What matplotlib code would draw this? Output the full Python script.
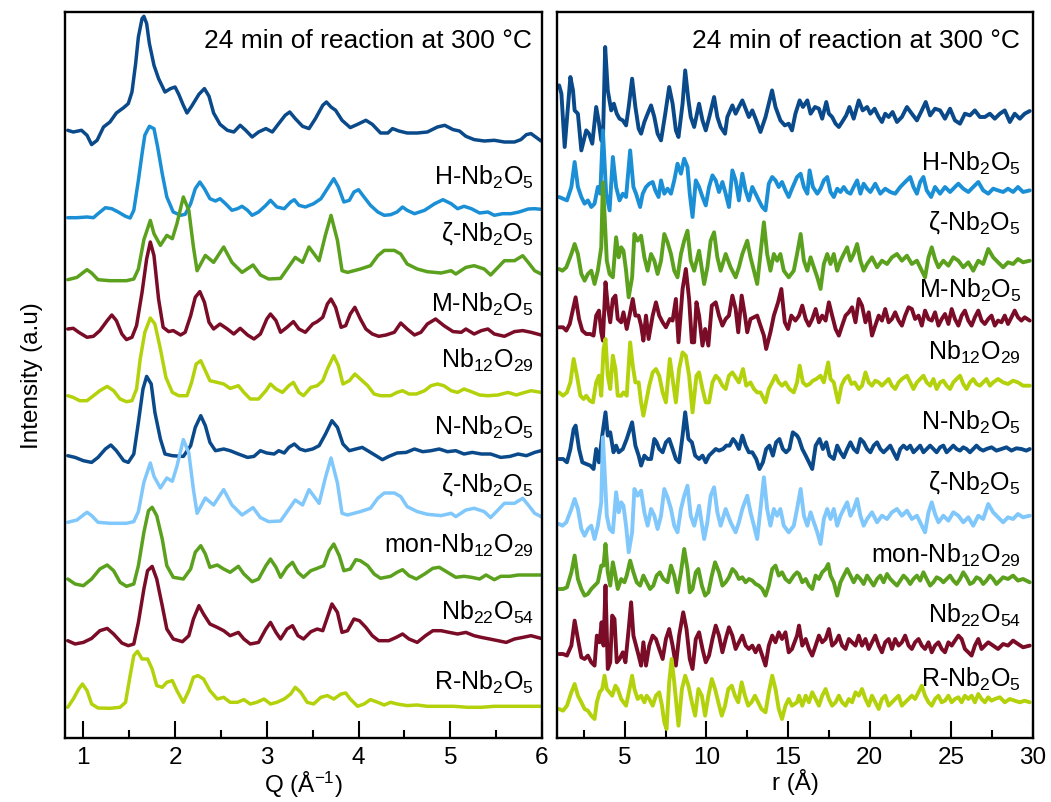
import matplotlib
matplotlib.use("Agg")
import matplotlib.pyplot as plt
from matplotlib.ticker import MultipleLocator

plt.rcParams['font.family'] = ['Liberation Sans', 'DejaVu Sans']
plt.rcParams['mathtext.default'] = 'regular'

# ---------------- colours ----------------
NAVY = '#0b4a8a'; BLUE = '#1a8fd6'; GREEN = '#5ba11e'
RED = '#7b0c27'; LIME = '#b4d20c'; SKY = '#80c7fb'

# ---------------- labels ----------------
title_text = '24 min of reaction at 300 °C'
phase_labels = ['H-Nb$_2$O$_5$', 'ζ-Nb$_2$O$_5$', 'M-Nb$_2$O$_5$', 'Nb$_{12}$O$_{29}$',
                'N-Nb$_2$O$_5$', 'ζ-Nb$_2$O$_5$', 'mon-Nb$_{12}$O$_{29}$',
                'Nb$_{22}$O$_{54}$', 'R-Nb$_2$O$_5$']

# ================= LEFT PANEL: reciprocal space, Q (1/Å), intensity (a.u.) =================
q_exp = [0.83,0.89,0.98,1.04,1.09,1.15,1.22,1.29,1.36,1.44,1.49,1.53,1.57,1.60,1.64,1.66,1.69,1.72,1.77,1.82,1.89,1.95,2.00,2.04,2.09,2.13,2.18,2.26,2.32,2.37,2.42,2.49,2.57,2.64,2.71,2.77,2.84,2.91,2.99,3.06,3.13,3.20,3.25,3.31,3.39,3.46,3.53,3.61,3.65,3.70,3.75,3.82,3.91,3.99,4.08,4.15,4.24,4.32,4.37,4.44,4.53,4.64,4.75,4.86,4.94,5.03,5.10,5.17,5.26,5.37,5.48,5.59,5.70,5.77,5.83,5.88,5.94,5.99]
i_exp = [1.0,0.83,1.0,0.5,-0.43,0,1.33,1.83,2.73,3.27,3.67,4.83,7.67,10.33,12.17,12.4,11.67,9.67,7.5,6.17,4.83,5.17,5.33,4.6,3.5,2.73,3.4,4.6,5.17,4.4,2.73,1.6,1.0,0.83,1.5,1.0,0.33,0.83,1.17,0.83,1.67,2.5,2.83,2.17,1.4,1.17,2.17,3.5,3.83,3.33,3.0,2.0,1.27,1.6,2.0,1.6,0.73,0.73,1.17,0.93,0.73,0.73,0.83,1.33,1.5,1.07,0.93,0.4,0.07,-0.07,0,-0.17,-0.17,0.07,0.57,0.67,0.27,-0.07]

q_H = [0.83,0.93,1.04,1.11,1.16,1.24,1.31,1.38,1.46,1.51,1.55,1.60,1.64,1.67,1.72,1.77,1.81,1.86,1.91,1.98,2.06,2.11,2.17,2.22,2.27,2.32,2.38,2.44,2.49,2.55,2.62,2.68,2.73,2.79,2.84,2.91,2.99,3.04,3.11,3.19,3.26,3.30,3.35,3.42,3.51,3.59,3.66,3.73,3.78,3.84,3.90,3.95,4.00,4.06,4.13,4.21,4.28,4.35,4.42,4.48,4.53,4.61,4.72,4.83,4.92,5.01,5.08,5.15,5.23,5.32,5.41,5.48,5.57,5.66,5.75,5.85,5.92,5.99]
i_H = [-0.07,-0.07,0,-0.07,0.33,0.93,0.83,0.5,0.07,-0.1,0.67,3.67,6.33,8.17,9.07,8.83,7.0,4.33,2.0,0.5,0.17,0.27,1.33,2.83,3.5,2.83,1.83,1.6,1.83,1.33,0.67,0.83,1.07,0.67,0.17,0.5,1.17,1.67,1.0,0.83,1.5,1.73,1.17,1.0,1.33,1.83,2.83,3.83,3.0,1.5,1.67,2.5,2.73,2.0,1.17,0.5,0.17,0.23,0.5,1.0,0.67,0.33,0.67,1.33,1.73,1.33,0.83,1.07,0.83,0.4,0.5,0.17,0.33,0.33,0.5,0.8,0.83,0.77]

q_zeta = [0.83,0.93,1.00,1.04,1.09,1.16,1.29,1.47,1.55,1.60,1.66,1.73,1.77,1.84,1.91,1.97,2.02,2.09,2.15,2.20,2.24,2.33,2.42,2.53,2.62,2.73,2.85,2.93,3.02,3.15,3.26,3.31,3.39,3.46,3.57,3.64,3.70,3.77,3.82,3.88,4.02,4.13,4.21,4.28,4.39,4.46,4.53,4.64,4.75,4.90,5.01,5.06,5.17,5.26,5.37,5.44,5.52,5.59,5.70,5.79,5.85,5.92,5.99]
i_zeta = [0,0.23,0.73,1.0,0.67,0,-0.1,-0.1,0.07,1.07,4.0,5.93,4.6,3.43,4.43,4.1,5.6,8.27,6.93,3.27,0.9,2.43,1.73,3.27,1.73,0.73,1.47,0.47,0.07,0.13,1.57,2.23,1.73,3.27,1.9,4.5,6.43,3.93,0.9,0.73,1.07,1.4,2.4,2.93,2.93,2.57,1.57,1.07,0.8,0.67,0.9,0.57,1.23,1.4,1.07,0.47,1.23,1.9,1.9,2.4,1.73,0.9,0.57]

q_M = [0.83,0.89,0.95,1.04,1.11,1.18,1.26,1.31,1.36,1.42,1.47,1.53,1.58,1.64,1.69,1.73,1.77,1.82,1.87,1.93,1.98,2.06,2.11,2.17,2.22,2.27,2.32,2.37,2.42,2.49,2.57,2.64,2.71,2.79,2.86,2.93,3.00,3.04,3.10,3.15,3.22,3.29,3.35,3.42,3.50,3.55,3.61,3.66,3.70,3.75,3.81,3.86,3.91,3.96,4.02,4.08,4.15,4.22,4.30,4.39,4.46,4.53,4.61,4.68,4.75,4.84,4.93,5.03,5.12,5.17,5.26,5.34,5.41,5.48,5.59,5.70,5.79,5.88,5.99]
i_M = [0.73,0.8,0.4,-0.1,0,0.57,1.57,2.13,1.57,0.23,-0.33,-0.1,1.07,4.4,7.73,9.43,8.07,3.73,0.9,0.47,0.57,0.13,0.4,2.07,3.9,4.47,3.4,1.4,0.73,1.23,0.73,0.23,0.8,0.13,-0.27,0.23,1.73,2.23,1.57,0.4,0.9,1.47,0.73,0.4,1.23,1.47,1.9,3.23,3.73,2.9,0.9,1.07,2.23,2.9,1.73,0.73,0.23,0,0.13,0.4,1.33,0.73,0.13,0.4,1.23,1.73,1.07,0.47,0.4,0.73,0.23,0.57,0.73,0.23,0,0.47,0.57,0.4,0.13]

q_Nb12 = [0.83,0.89,0.96,1.04,1.11,1.18,1.26,1.33,1.40,1.47,1.53,1.58,1.62,1.67,1.73,1.78,1.84,1.90,1.97,2.04,2.13,2.18,2.23,2.28,2.33,2.38,2.46,2.53,2.60,2.69,2.75,2.82,2.91,2.99,3.04,3.10,3.17,3.24,3.29,3.35,3.40,3.48,3.55,3.61,3.66,3.73,3.78,3.83,3.90,3.96,4.02,4.10,4.17,4.24,4.35,4.42,4.48,4.55,4.63,4.72,4.79,4.86,4.93,5.01,5.08,5.15,5.23,5.32,5.41,5.52,5.63,5.72,5.79,5.88,5.99]
i_Nb12 = [0,-0.17,-0.5,-0.5,0,0.5,0.93,0.5,-0.33,-0.6,-0.5,0.67,3.67,6.33,7.77,7.17,4.67,1.83,0.33,0,0,1.33,3.17,3.5,2.5,1.5,1.33,1.17,0.73,1.0,0.33,-0.33,-0.33,0.5,1.17,0.67,0.33,1.0,1.33,0.33,0,0.83,1.0,1.5,2.67,4.0,3.0,1.17,1.5,2.17,1.67,1.0,0.17,0,0,0.33,0.5,0.17,0.17,0.5,1.0,1.17,1.0,0.5,0.33,0.67,0.4,0.07,0,0.07,0.33,0.07,0.27,0.5,0.33]

q_N = [0.83,0.91,1.00,1.09,1.16,1.24,1.30,1.36,1.44,1.49,1.55,1.60,1.65,1.69,1.74,1.78,1.84,1.89,1.97,2.09,2.17,2.22,2.28,2.33,2.38,2.44,2.53,2.60,2.69,2.79,2.86,2.93,3.00,3.08,3.13,3.19,3.24,3.30,3.36,3.42,3.50,3.57,3.64,3.71,3.77,3.83,3.90,3.97,4.04,4.10,4.19,4.26,4.33,4.42,4.52,4.61,4.70,4.79,4.88,4.97,5.06,5.15,5.24,5.34,5.44,5.55,5.65,5.74,5.83,5.92,5.99]
i_N = [0,-0.17,-0.5,-0.67,-0.17,0.67,1.07,0.5,-0.5,-0.67,0.17,3.33,6.67,7.93,7.17,4.33,1.67,0.17,0,-0.07,1.0,2.83,4.0,3.0,1.33,0.5,0.67,0.5,0.17,-0.17,-0.07,0.5,0.27,0.17,0.5,0.27,0.83,1.17,0.67,0.5,0.67,1.0,2.17,3.5,2.83,1.17,0.5,0.67,0.83,0.5,0,-0.4,-0.07,0.27,0.33,0.67,0.4,0.5,0.67,0.4,0.5,0.17,0.33,0.17,0.17,-0.17,-0.07,0.17,0,0.33,0.5]

q_mon = [0.83,0.91,1.00,1.09,1.18,1.26,1.33,1.40,1.47,1.55,1.60,1.66,1.71,1.75,1.80,1.86,1.91,1.98,2.09,2.17,2.22,2.28,2.33,2.38,2.46,2.53,2.60,2.69,2.75,2.84,2.91,2.99,3.04,3.10,3.15,3.22,3.28,3.34,3.40,3.48,3.55,3.62,3.68,3.73,3.79,3.84,3.91,3.97,4.02,4.10,4.17,4.24,4.35,4.42,4.48,4.55,4.63,4.72,4.81,4.88,4.97,5.06,5.15,5.23,5.32,5.39,5.48,5.55,5.65,5.74,5.85,5.99]
i_mon = [0,-0.5,-0.67,0,1.0,1.4,0.83,-0.33,-0.73,-0.5,1.33,4.67,6.83,7.17,6.33,4.0,1.33,0.17,0,1.0,2.67,3.33,2.5,1.17,1.4,1.0,0.67,1.27,0.5,-0.27,0,1.33,2.0,1.17,0.17,1.17,1.67,0.67,0.17,0.83,1.07,1.33,2.83,3.5,2.33,0.83,1.0,1.93,1.83,1.33,0.5,0.07,0.27,0.67,0.93,0.33,0,0.5,1.07,1.17,0.67,0.17,0.27,0.17,0,0.4,-0.07,0.27,0.27,0.4,0.4,0.4]

q_Nb22 = [0.83,0.91,1.00,1.09,1.18,1.26,1.33,1.42,1.49,1.55,1.60,1.66,1.70,1.75,1.80,1.86,1.91,1.98,2.08,2.15,2.20,2.26,2.31,2.38,2.46,2.53,2.60,2.69,2.75,2.82,2.91,2.99,3.04,3.10,3.15,3.22,3.28,3.34,3.40,3.48,3.55,3.61,3.66,3.71,3.77,3.82,3.88,3.95,4.01,4.08,4.15,4.22,4.33,4.41,4.48,4.55,4.64,4.73,4.81,4.90,4.99,5.08,5.17,5.26,5.34,5.43,5.52,5.61,5.70,5.79,5.88,5.99]
i_Nb22 = [0,-0.33,-0.17,0.23,1.0,1.23,0.67,-0.23,-0.5,-0.33,1.83,5.17,7.0,7.43,6.17,3.5,1.17,0.17,-0.1,0.5,2.17,3.5,2.67,1.67,1.33,1.0,0.5,0.83,0.17,-0.33,-0.17,1.17,1.83,0.83,0.17,1.17,1.5,0.5,0.17,0.9,1.17,1.0,2.33,3.67,2.83,0.83,1.0,2.17,2.0,1.33,0.5,0,0,0.33,0.67,0.17,-0.17,0.5,1.0,1.0,0.83,0.67,0.83,0.5,0.33,0.17,0,-0.17,0.17,0.33,0.5,0.23]

q_R = [0.83,0.89,0.95,0.99,1.04,1.09,1.16,1.29,1.40,1.46,1.51,1.55,1.59,1.64,1.70,1.75,1.80,1.86,1.91,1.97,2.02,2.09,2.15,2.20,2.25,2.31,2.38,2.46,2.53,2.60,2.68,2.75,2.82,2.89,2.97,3.04,3.11,3.19,3.26,3.31,3.37,3.44,3.51,3.59,3.66,3.73,3.81,3.86,3.91,3.99,4.06,4.13,4.21,4.28,4.35,4.42,4.53,4.64,4.75,4.90,5.04,5.19,5.34,5.48,5.63,5.77,5.99]
i_R = [0,0.83,1.83,2.33,1.67,0.33,-0.07,-0.1,0,0.5,3.17,5.17,5.6,4.83,4.83,3.83,2.17,2.0,2.5,2.67,1.67,0.5,1.67,3.0,3.17,2.83,1.67,0.83,1.0,0.5,0.5,0.77,0.33,0.5,0.83,0.33,0.5,0.83,1.33,2.0,1.5,0.5,0.33,1.0,1.17,0.83,1.33,1.43,0.83,0.1,0.33,0.77,0.5,0.23,0.5,0.33,0.17,0.23,0.1,0.1,0.1,0,0,0.1,0.1,0.1,0.1]

left_q = [q_exp, q_H, q_zeta, q_M, q_Nb12, q_N, q_zeta, q_mon, q_Nb22, q_R]
left_i = [i_exp, i_H, i_zeta, i_M, i_Nb12, i_N, i_zeta, i_mon, i_Nb22, i_R]
left_offsets = [59.77, 52.1, 45.83, 40.17, 34.23, 28.23, 21.57, 15.9, 9.73, 3.07]
left_label_y = [55.4, 49.8, 42.73, 37.1, 30.4, 24.73, 18.6, 11.9, 4.9]

# ================= RIGHT PANEL: real space, r (Å), G(r) (a.u.) =================
r_exp = [0.98,1.12,1.32,1.52,1.67,1.83,1.93,2.13,2.34,2.64,2.81,3.01,3.25,3.41,3.56,3.66,3.80,3.96,4.17,4.33,4.51,4.68,4.88,5.08,5.24,5.45,5.65,5.85,6.00,6.20,6.40,6.61,6.81,7.01,7.22,7.48,7.72,7.93,8.13,8.29,8.54,8.70,8.90,9.04,9.25,9.55,9.76,9.96,10.20,10.47,10.67,10.87,11.14,11.28,11.59,11.79,11.99,12.20,12.40,12.60,12.81,13.05,13.31,13.62,13.82,14.02,14.23,14.53,14.80,15.04,15.24,15.45,
         15.71,15.91,16.18,16.38,16.65,16.89,17.09,17.34,17.50,17.70,17.91,18.11,18.31,18.56,18.76,19.02,19.33,19.57,19.84,20.04,20.30,20.55,20.75,20.95,21.16,21.40,21.67,21.97,22.28,22.58,22.89,23.19,23.43,23.70,24.00,24.31,24.61,24.92,25.22,25.53,25.83,26.14,26.44,26.75,27.05,27.36,27.66,27.97,28.27,28.58,28.88,29.19,29.49,29.80]
g_exp = [2.83,2.0,-3.33,0.67,3.67,2.33,0.33,0,-3.67,-1.67,-2.0,-3.0,0.67,-0.83,-2.67,-2.83,6.67,2.33,0.33,1.0,0,-0.5,-0.67,-1.17,0.67,3.5,0.67,-1.5,-2.0,-0.83,0,0.83,-0.33,-2.0,-2.67,0,2.67,1.0,-1.67,-2.33,1.0,4.33,1.33,-0.33,-1.33,1.0,-0.67,-1.67,-0.17,1.67,-0.33,-1.33,-2.0,-0.33,0.83,0,0.67,1.33,0.5,-0.33,0.33,-0.67,-1.83,-0.33,1.0,2.33,0.67,-0.67,-1.17,-1.0,-1.67,0,
         1.33,0.67,1.33,0,0.67,0.5,-0.5,1.17,0,-0.33,-1.0,-1.33,-0.83,-0.17,0.67,-0.5,1.33,0.33,0.67,0,0.5,-0.33,-0.83,0,-0.33,0.17,-0.83,-0.33,0.67,0,-0.67,0.33,1.17,-0.17,0.5,0.33,-0.5,0.5,-0.67,-1.0,0,-0.17,0.33,-0.33,-0.33,0,-0.5,0,0.33,-0.83,0,-0.5,0,0.27]

r_H = [0.98,1.22,1.46,1.73,1.93,2.13,2.34,2.54,2.74,2.95,3.15,3.35,3.50,3.66,3.86,4.07,4.27,4.47,4.68,4.88,5.08,5.33,5.53,5.69,5.94,6.10,6.30,6.50,6.71,6.87,7.07,7.22,7.42,7.62,7.83,8.03,8.23,8.44,8.64,8.84,8.98,9.15,9.35,9.55,9.76,9.96,10.16,10.37,10.57,10.77,10.98,11.18,11.38,11.59,11.79,11.99,12.20,12.40,12.60,12.81,13.01,13.21,13.42,13.62,13.82,14.03,14.23,14.43,14.63,14.84,15.04,15.24,15.55,
       15.77,15.97,16.18,16.32,16.52,16.79,16.99,17.19,17.40,17.60,17.80,18.01,18.21,18.41,18.62,18.82,19.02,19.23,19.43,19.63,19.84,20.04,20.34,20.65,20.95,21.26,21.56,21.87,22.17,22.48,22.68,22.89,23.09,23.29,23.49,23.76,24.00,24.31,24.61,24.92,25.22,25.43,25.73,26.04,26.34,26.65,26.95,27.26,27.56,27.86,28.17,28.47,28.78,29.08,29.39,29.80]
g_H = [-0.33,-0.5,-0.67,0.67,3.17,0.67,-0.33,-1.0,-0.67,-1.33,-1.0,0.67,0,6.33,0,-1.67,3.67,0.67,-0.67,0,-0.33,4.33,0.67,0,-1.33,0,0.67,1.0,1.17,0.33,-0.33,1.33,0,0.5,0,1.33,3.0,2.0,3.5,2.67,0,-2.33,1.33,0.67,-0.33,-1.17,0.67,1.83,1.33,0.17,1.17,0,-1.33,2.33,1.33,-0.67,2.0,0.33,-0.67,0.67,0,-0.67,-1.33,-1.67,1.0,1.67,1.33,0.67,1.17,0.33,-0.33,0.5,1.67,
       2.0,0.67,0,2.33,0.67,0,0.5,1.33,1.67,0.17,-0.33,0.5,0.17,0.67,0.17,0,0.67,1.33,0,1.0,0.5,0.17,1.0,0,0.5,0.17,0,0.67,1.17,1.67,0.67,0,1.17,1.67,0.33,-0.33,0.67,0,0.67,0.17,0.67,1.0,0.5,0.17,0.67,1.17,0.33,0,0.5,0.33,0.17,0.5,0.17,0.67,0.17,0.33]

r_zeta = [0.98,1.18,1.42,1.73,1.93,2.13,2.34,2.54,2.74,2.95,3.15,3.35,3.56,3.66,3.76,3.90,4.07,4.27,4.47,4.63,4.78,4.92,5.08,5.24,5.45,5.59,5.79,6.00,6.20,6.40,6.61,6.81,7.01,7.22,7.42,7.62,7.83,8.03,8.23,8.44,8.64,8.84,9.04,9.25,9.55,9.86,10.06,10.26,10.47,10.67,10.87,11.18,11.48,11.79,11.99,12.20,12.50,12.70,12.91,13.11,13.31,13.52,13.72,13.92,14.13,14.33,14.53,14.74,15.04,15.35,
          15.55,15.77,15.97,16.18,16.38,16.58,16.79,16.99,17.19,17.40,17.60,17.80,18.01,18.21,18.41,18.62,18.82,19.02,19.23,19.43,19.63,19.84,20.14,20.45,20.75,21.06,21.36,21.67,21.97,22.28,22.58,22.89,23.19,23.39,23.60,23.80,24.00,24.21,24.51,24.82,25.12,25.43,25.73,26.04,26.34,26.65,26.95,27.26,27.56,27.86,28.17,28.47,28.78,29.08,29.39,29.80]
g_zeta = [-0.5,-0.67,-0.33,1.0,2.0,1.0,-1.0,-1.67,-1.0,-0.67,-2.0,-0.67,1.67,8.17,5.0,0.33,-1.0,-1.33,2.67,0.67,1.67,1.33,-0.67,-3.33,-1.33,3.0,2.33,2.83,0.67,-0.67,1.0,0.33,-1.0,0.33,3.0,2.17,1.0,-0.67,-1.33,1.0,2.33,3.33,0.33,-0.67,1.33,-2.0,-0.33,2.33,3.17,0.67,-0.67,1.0,-0.33,-1.33,-0.33,1.0,2.33,0.67,-0.67,-2.0,1.0,4.17,1.0,-0.67,1.0,0.33,1.0,-0.67,-1.33,-0.67,
          1.0,3.0,0.33,-0.67,0.67,-0.33,-1.33,-2.5,0,1.0,0,1.0,-0.67,0.33,1.0,1.67,0.33,1.0,2.0,0.33,-0.67,0,0.67,-0.33,0.33,0,0.67,1.0,0.33,0.83,0,0.33,-0.67,-1.33,0.67,1.67,0.5,-0.33,0.33,-0.17,0.67,0.33,-0.33,0.17,-0.67,0.33,0,1.5,0.67,0.17,-0.33,0.17,0,0.5,0.17,0.33]

r_M = [0.98,1.22,1.42,1.63,1.83,1.99,2.20,2.40,2.64,2.89,3.09,3.25,3.42,3.56,3.66,3.82,3.96,4.11,4.27,4.43,4.57,4.78,4.92,5.12,5.29,5.49,5.65,5.85,6.00,6.14,6.30,6.46,6.71,6.91,7.11,7.32,7.52,7.76,7.93,8.13,8.29,8.54,8.74,8.94,9.11,9.25,9.39,9.55,9.76,9.92,10.12,10.33,10.57,10.77,10.98,11.18,11.38,11.59,11.79,11.95,12.16,12.36,12.50,12.70,12.91,13.11,13.31,13.52,13.66,13.92,14.13,14.39,14.59,14.80,15.00,15.20,15.45,
       15.67,15.87,16.08,16.28,16.48,16.69,16.89,17.09,17.30,17.50,17.70,17.91,18.11,18.31,18.52,18.72,18.92,19.13,19.33,19.53,19.74,19.94,20.14,20.34,20.55,20.75,20.95,21.16,21.36,21.56,21.77,21.97,22.17,22.38,22.58,22.78,22.99,23.19,23.39,23.60,23.80,24.00,24.21,24.41,24.61,24.82,25.02,25.22,25.43,25.63,25.83,26.04,26.24,26.44,26.65,26.85,27.05,27.26,27.46,27.66,27.86,28.07,28.27,28.47,28.68,28.88,29.08,29.29,29.49,29.80]
g_M = [-0.5,-0.5,-0.83,-0.17,1.33,2.5,0.33,-0.83,-1.17,-1.17,-1.33,0.67,1.17,-1.0,-1.83,4.0,1.67,0,2.33,2.67,0.33,0,1.0,-0.67,0.67,2.33,0.67,0.67,-0.33,-1.83,0.67,-1.67,0.67,2.0,0.67,0,-0.5,0.33,0.17,2.33,-2.0,3.33,5.33,2.33,-2.0,-2.0,2.0,0.67,-2.33,-0.67,-2.33,1.67,2.0,0.67,-0.33,0.33,0.67,2.67,1.33,-1.0,2.67,0.67,-1.0,0.33,0.5,0.67,-0.33,-1.33,-2.67,-1.0,0.67,2.0,3.33,0,-0.67,0.67,0.17,
       0.67,1.67,0.33,-0.33,0.33,1.33,0,0.67,0.17,2.0,0.67,-0.67,-1.33,-0.33,0.67,1.0,1.5,0,2.33,1.67,0,1.0,-1.33,-0.33,0.67,0.17,1.33,0,0.33,1.0,0.17,-0.33,0.67,1.5,1.33,0.33,0.67,-0.33,1.17,0.33,0.17,1.0,-0.33,0.33,0.83,-0.17,1.33,0.33,-0.33,0.67,1.17,0.17,-0.33,0.5,1.17,0.17,-0.17,0.33,0.67,-0.33,0.17,0,0.67,-0.17,0.5,1.17,0.5,0.17,0.5,0.17]

r_Nb12 = [0.98,1.22,1.46,1.67,1.87,2.07,2.28,2.48,2.64,2.85,3.05,3.25,3.42,3.56,3.70,3.82,3.96,4.11,4.27,4.43,4.57,4.78,4.92,5.12,5.33,5.49,5.65,5.85,6.00,6.14,6.30,6.50,6.71,6.91,7.11,7.32,7.52,7.76,7.93,8.13,8.33,8.54,8.74,8.94,9.15,9.39,9.55,9.76,9.96,10.16,10.37,10.57,10.77,10.98,11.18,11.38,11.59,11.79,11.99,12.24,12.44,12.70,12.91,13.11,13.31,13.62,13.82,14.03,14.23,14.43,14.63,14.84,15.08,15.35,15.55,
          15.71,15.91,16.12,16.32,16.52,16.73,16.99,17.19,17.46,17.60,17.80,18.07,18.27,18.47,18.68,18.88,19.08,19.33,19.53,19.74,19.94,20.14,20.34,20.55,20.75,20.95,21.16,21.36,21.56,21.77,21.97,22.28,22.48,22.68,22.89,23.09,23.29,23.49,23.70,23.90,24.10,24.31,24.51,24.71,24.92,25.12,25.32,25.53,25.73,25.93,26.14,26.34,26.54,26.75,26.95,27.15,27.36,27.56,27.86,28.17,28.47,28.78,29.08,29.39,29.80]
g_Nb12 = [-0.67,-1.0,-0.67,0.33,2.67,1.0,-1.0,-1.33,-1.0,-1.5,-1.67,0.33,1.0,-1.0,3.67,4.67,1.0,-0.33,3.0,1.67,-1.0,-1.0,-0.67,-1.0,4.33,2.0,0.33,0.33,-1.67,-3.0,-1.67,0,1.33,1.67,1.0,-0.67,-1.67,2.67,0.67,-1.67,1.67,3.33,3.0,1.0,-2.67,1.0,1.33,-0.33,-1.67,-1.67,0.33,1.0,0.67,0,-0.33,1.0,1.33,0.83,0.33,1.67,0,0.33,-0.33,-0.67,-0.67,-1.67,-0.33,0.33,1.0,0.33,0,0.33,-0.33,-0.67,0.33,
          2.0,0.33,0,0.17,0.5,0.67,1.0,0.33,2.33,0.67,0.33,-1.67,0,0.67,1.0,0.17,0.33,-0.33,0,1.33,0.33,0,0.5,0.33,0,0.33,0.67,0,-0.33,0.33,0.67,1.0,0.33,-0.33,0.33,0.67,1.0,0.33,0,0.67,-0.33,0.33,0.5,0,-0.33,0.33,0.67,1.0,0.17,-0.33,0.33,0.67,0.17,0,0.33,0.67,0,0.33,0.67,0.33,0.17,0.5,0.33,0,0]

r_N = [0.98,1.22,1.46,1.67,1.87,1.99,2.20,2.40,2.64,2.89,3.09,3.25,3.42,3.62,3.82,3.96,4.11,4.31,4.47,4.63,4.88,5.12,5.45,5.65,5.85,6.00,6.20,6.40,6.61,6.81,6.95,7.11,7.32,7.52,7.72,7.93,8.13,8.33,8.54,8.70,8.90,9.11,9.31,9.55,9.76,9.96,10.16,10.37,10.57,10.77,11.02,11.22,11.42,11.63,11.79,11.99,12.20,12.40,12.60,12.81,13.05,13.25,13.46,13.66,13.86,14.07,14.27,14.47,14.68,14.88,15.08,15.29,15.55,
       15.67,15.87,16.08,16.28,16.48,16.69,16.93,17.13,17.34,17.54,17.80,18.01,18.21,18.41,18.62,18.82,19.02,19.23,19.43,19.63,19.84,20.04,20.24,20.45,20.65,20.85,21.06,21.26,21.46,21.67,21.87,22.07,22.28,22.48,22.68,22.89,23.09,23.29,23.49,23.70,23.90,24.10,24.31,24.51,24.71,24.92,25.12,25.32,25.53,25.73,25.93,26.14,26.34,26.54,26.75,26.95,27.15,27.46,27.76,28.07,28.37,28.68,28.98,29.29,29.59,29.80]
g_N = [-0.67,-0.67,-1.0,0.33,2.33,2.67,0.33,-1.0,-1.17,-1.33,-1.67,0.33,-1.0,1.67,4.0,1.67,2.0,0,0.67,0,0.33,1.33,3.0,0.67,-0.33,-1.33,-0.33,-0.67,-0.67,1.33,1.0,0.33,0,1.0,1.33,0.33,-0.67,-1.0,1.67,4.0,1.33,1.0,-0.33,-0.67,-0.33,-1.0,-0.33,0,0.33,0.17,0.33,0.67,0.67,1.33,1.0,0.33,1.67,0.67,0,0,-0.67,-1.67,-1.0,0.33,0.67,-0.33,1.0,1.33,0.33,0,0.33,2.0,1.67,
       1.33,0.33,-0.33,-1.0,-1.67,0.67,1.33,0.33,1.0,-0.33,-0.67,0.67,0,-0.5,0.33,1.0,0.33,0,1.33,1.0,0.33,0,0.67,1.0,0.33,0,0.33,0.67,0,-0.67,0.33,0.67,0.33,0.67,0,0.33,0.67,0,0.33,0.67,0.33,0,0.5,0.67,0,0.33,0.67,0.33,0.17,0.5,0.33,0,0.33,0.67,0.33,0.17,0.33,0.5,0.17,0.33,0.5,0.17,0.4,0.33,0.17,0.33]

r_mon = [0.98,1.22,1.46,1.73,1.93,2.13,2.34,2.54,2.74,2.95,3.15,3.35,3.56,3.70,3.82,3.96,4.11,4.27,4.43,4.57,4.78,4.98,5.12,5.33,5.53,5.73,5.94,6.14,6.34,6.55,6.75,6.95,7.15,7.36,7.62,7.83,8.03,8.23,8.44,8.64,8.84,8.98,9.15,9.35,9.51,9.72,9.92,10.12,10.33,10.53,10.77,10.98,11.18,11.38,11.59,11.79,11.99,12.20,12.40,12.60,12.81,13.01,13.21,13.42,13.62,13.82,14.03,14.23,14.43,14.63,14.84,15.08,15.35,15.55,
         15.67,15.87,16.08,16.28,16.48,16.69,16.89,17.09,17.30,17.46,17.60,17.80,18.01,18.21,18.41,18.62,18.82,19.02,19.23,19.43,19.63,19.84,20.04,20.24,20.45,20.65,20.85,21.06,21.26,21.46,21.67,21.87,22.07,22.28,22.48,22.68,22.89,23.09,23.29,23.49,23.70,23.90,24.10,24.31,24.51,24.71,24.92,25.12,25.32,25.53,25.73,25.93,26.14,26.34,26.54,26.75,26.95,27.15,27.36,27.56,27.76,27.97,28.17,28.47,28.78,29.08,29.39,29.80]
g_mon = [-0.67,-0.67,-0.5,1.0,2.67,0.33,-0.67,-1.33,-1.17,-0.67,-0.33,0,1.67,1.67,3.83,1.0,-0.33,2.0,0.67,-0.67,0.33,0,0.67,2.17,1.0,0,-0.33,0.67,0,-0.67,-0.33,0.67,1.0,0.33,0,1.67,0.67,-1.0,1.0,3.33,1.33,-1.0,-0.67,1.0,1.33,-0.33,-1.33,-1.0,0.67,2.0,1.0,-0.33,0,0.5,1.33,1.0,0.33,0.5,0,0.33,0.17,-0.17,-0.33,-0.67,-1.33,-0.33,1.33,1.67,0.67,1.0,0.33,0,0.67,1.0,
         0.83,0,0.33,-0.33,-0.67,0.67,0.33,1.0,1.33,1.83,0.67,0,-1.33,0,0.67,1.33,0.67,0,0.67,0.33,-0.17,0.67,0.17,-0.33,0.33,0.67,0,0.83,0.33,0,-0.33,0.17,0.67,0.33,-0.17,0.33,0.67,0.17,1.0,0.33,-0.33,0,0.5,0.33,0,0.33,0.67,0.17,-0.17,0.33,1.0,0.5,-0.17,0,0.5,0.33,-0.17,0.17,0.67,0.33,-0.17,0.17,0.5,0.33,0.67,0.17,0.33,0]

r_Nb22 = [0.98,1.22,1.46,1.73,1.93,2.13,2.34,2.54,2.74,2.95,3.15,3.29,3.46,3.58,3.70,3.82,3.96,4.11,4.23,4.37,4.51,4.68,4.88,5.04,5.24,5.39,5.53,5.69,5.85,6.00,6.14,6.30,6.50,6.71,6.91,7.11,7.32,7.52,7.72,7.93,8.13,8.33,8.58,8.78,8.98,9.15,9.35,9.55,9.76,9.96,10.16,10.37,10.57,10.77,10.98,11.18,11.38,11.59,11.79,11.99,12.20,12.40,12.60,12.81,13.01,13.21,13.42,13.62,13.82,14.03,14.23,14.43,14.63,14.84,15.04,15.24,15.55,
          15.67,15.87,16.08,16.28,16.48,16.69,16.89,17.09,17.30,17.50,17.70,17.91,18.11,18.31,18.52,18.72,18.92,19.13,19.33,19.53,19.74,19.94,20.14,20.34,20.55,20.75,20.95,21.16,21.36,21.56,21.77,21.97,22.17,22.38,22.58,22.78,22.99,23.19,23.39,23.60,23.80,24.00,24.21,24.41,24.61,24.82,25.02,25.22,25.43,25.63,25.83,26.04,26.24,26.44,26.65,26.85,27.05,27.26,27.56,27.86,28.17,28.47,28.78,29.08,29.39,29.80]
g_Nb22 = [-0.67,-0.67,-0.83,0.17,2.67,0.83,-1.0,-1.17,-0.83,-1.5,-1.83,1.17,0.5,2.5,0.17,6.17,-2.17,-1.5,3.17,2.83,-1.5,-1.17,-0.5,-1.5,1.83,4.5,1.17,0.17,-0.83,-1.83,0.5,-1.83,0.17,1.17,0.83,-0.17,-1.17,0.83,1.83,0.17,-1.83,1.17,3.5,1.83,-1.17,-2.17,0.83,1.5,-0.17,-1.5,-0.83,0.83,2.17,1.17,-0.5,0.83,2.0,1.17,-0.17,0.5,1.17,0.17,-0.17,0.17,-0.5,0.17,-0.83,-1.83,0.17,1.17,0.5,1.5,0.83,1.5,-0.5,-0.17,1.17,
          2.17,0.17,0.83,-0.17,-0.83,0.17,1.17,0.5,0.83,1.83,0.17,0.5,1.17,0.17,-0.17,0.83,0.5,0.17,1.17,0.17,0.83,-0.17,0.5,1.17,0.17,-0.5,0.5,0.83,-0.17,0.83,0.17,0.5,1.17,0.17,-0.17,0.5,0.83,0.17,-0.17,0.5,-0.5,0.17,0.5,-0.17,-0.5,0.5,0.17,0.67,1.17,0.83,-0.17,-0.5,-0.83,0.17,0.83,-0.17,0.17,0.5,0.17,-0.17,0.33,0.17,0.67,0.33,0,0.17]

r_R = [0.98,1.22,1.46,1.73,1.93,2.13,2.34,2.54,2.74,2.95,3.15,3.29,3.46,3.62,3.76,3.90,4.07,4.23,4.43,4.57,4.78,4.92,5.08,5.29,5.45,5.59,5.79,6.00,6.20,6.34,6.50,6.71,6.91,7.11,7.28,7.42,7.56,7.72,7.87,8.03,8.17,8.29,8.50,8.70,8.90,9.11,9.31,9.51,9.72,9.92,10.12,10.33,10.53,10.73,10.94,11.14,11.34,11.55,11.75,11.95,12.16,12.36,12.56,12.76,12.97,13.17,13.37,13.62,13.82,14.03,14.23,14.43,14.63,14.84,15.04,15.24,15.55,
       15.67,15.87,16.08,16.28,16.48,16.69,16.89,17.09,17.30,17.50,17.70,17.91,18.11,18.31,18.52,18.72,18.92,19.13,19.33,19.53,19.74,19.94,20.14,20.34,20.55,20.75,20.95,21.16,21.36,21.56,21.77,21.97,22.17,22.38,22.58,22.78,22.99,23.19,23.39,23.60,23.80,24.00,24.21,24.41,24.61,24.82,25.02,25.22,25.43,25.63,25.83,26.04,26.24,26.44,26.65,26.85,27.05,27.26,27.46,27.66,27.97,28.27,28.58,28.88,29.19,29.49,29.80]
g_R = [-0.5,-0.67,-0.17,1.17,2.0,0.83,0.17,-0.5,-0.67,-1.17,-1.5,0.17,1.17,1.5,2.83,1.5,1.17,0.83,1.83,1.5,0.5,0.17,-0.17,1.5,2.83,1.5,0.5,0.83,0.17,0.83,0.5,-0.17,0.83,1.17,-0.17,-1.83,-2.5,2.17,4.5,2.17,-0.17,-2.17,1.5,2.83,1.83,0.17,-1.17,1.5,0.83,-1.17,0.83,2.5,1.5,0.17,-1.17,-0.17,1.5,1.83,0.83,0.17,2.17,0.83,-0.17,0.17,0.83,0.17,-0.5,-0.83,1.17,2.83,1.5,-0.5,-1.5,-0.17,0.5,-0.17,0.17,
       0.83,-0.17,0.83,0.17,1.17,0.5,-0.17,0.83,1.5,0.5,-0.17,0.17,0.83,0.17,-0.17,0.5,0.17,1.17,0.83,1.5,0.5,-0.17,0.83,0.17,-0.5,0.5,0.83,-0.17,0.17,0.5,0.83,-0.17,0.17,0.5,0.83,0.5,1.17,1.83,0.83,0.17,-0.17,0.5,0.83,0.17,0.33,0.83,0.17,0.5,0.67,0.17,0.83,0.5,0.83,0.17,1.0,0.5,0.17,0.67,0.33,0.5,0.67,0.17,0.5,0.33,0.17,0.33,0.17]

right_r = [r_exp, r_H, r_zeta, r_M, r_Nb12, r_N, r_zeta, r_mon, r_Nb22, r_R]
right_g = [g_exp, g_H, g_zeta, g_M, g_Nb12, g_N, g_zeta, g_mon, g_Nb22, g_R]
right_offsets = [62.43, 54.43, 47.4, 41.57, 35.23, 28.57, 21.9, 15.57, 9.07, 3.4]
right_label_y = [56.8, 50.93, 44.07, 37.9, 30.9, 24.9, 17.6, 11.6, 5.23]

colors = [NAVY, BLUE, GREEN, RED, LIME, NAVY, SKY, GREEN, RED, LIME]

# ---------------- figure ----------------
W, H = 1051, 803
fig = plt.figure(figsize=(W / 100, H / 100), dpi=100)
axL = fig.add_axes([65 / W, 1 - 739 / H, 477 / W, 726 / H])
axR = fig.add_axes([557 / W, 1 - 739 / H, 476 / W, 726 / H])

YMAX = 72.6
FS_TICK = 17.5
FS_LAB = 18
FS_TITLE = 19


def draw(ax, xs, ys, offs, lw):
    for x, y, off, c in zip(xs, ys, offs, colors):
        n = min(len(x), len(y))
        ax.plot(x[:n], [v + off for v in y[:n]], color=c, lw=lw,
                solid_joinstyle='round', solid_capstyle='round')


draw(axL, left_q, left_i, left_offsets, 2.5)
draw(axR, right_r, right_g, right_offsets, 2.8)

for ax in (axL, axR):
    ax.set_ylim(0, YMAX)
    ax.set_yticks([])
    for s in ax.spines.values():
        s.set_linewidth(1.7)
        s.set_color('black')
    ax.tick_params(axis='x', which='major', direction='in', length=12, width=1.5,
                   labelsize=FS_TICK, pad=6, top=False)
    ax.tick_params(axis='x', which='minor', direction='in', length=6, width=1.5, top=False)

axL.set_xlim(0.8, 6.0)
axL.xaxis.set_major_locator(MultipleLocator(1))
axL.xaxis.set_minor_locator(MultipleLocator(0.5))
axL.set_xlabel('Q (Å$^{-1}$)', fontsize=FS_TICK, labelpad=0)
axL.set_ylabel('Intensity (a.u)', fontsize=FS_TICK, labelpad=16)

axR.set_xlim(0.85, 30.0)
axR.xaxis.set_major_locator(MultipleLocator(5))
axR.xaxis.set_minor_locator(MultipleLocator(2.5))
axR.set_xlabel('r (Å)', fontsize=FS_TICK, labelpad=0)

axL.text(0.979, 0.952, title_text, transform=axL.transAxes, ha='right', va='baseline', fontsize=FS_TITLE)
axR.text(0.973, 0.952, title_text, transform=axR.transAxes, ha='right', va='baseline', fontsize=FS_TITLE)

for lab, y in zip(phase_labels, left_label_y):
    axL.text(0.983, y, lab, transform=axL.get_yaxis_transform(), ha='right', va='baseline',
             fontsize=FS_LAB)
for lab, y in zip(phase_labels, right_label_y):
    axR.text(0.975, y, lab, transform=axR.get_yaxis_transform(), ha='right', va='baseline',
             fontsize=FS_LAB)

fig.savefig('out.png', dpi=100)
